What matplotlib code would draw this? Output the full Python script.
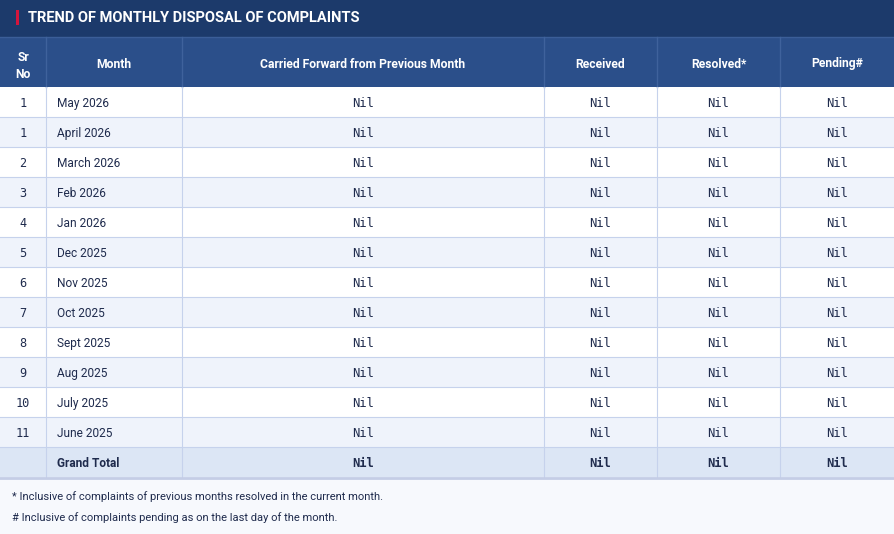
import matplotlib
matplotlib.use("Agg")
import matplotlib.pyplot as plt
from matplotlib.patches import Rectangle

title = "TREND OF MONTHLY DISPOSAL OF COMPLAINTS"
headers = ["Sr\nNo", "Month", "Carried Forward from Previous Month", "Received", "Resolved*", "Pending#"]
sr_no = ["1", "1", "2", "3", "4", "5", "6", "7", "8", "9", "10", "11"]
months = ["May 2026", "April 2026", "March 2026", "Feb 2026", "Jan 2026", "Dec 2025",
          "Nov 2025", "Oct 2025", "Sept 2025", "Aug 2025", "July 2025", "June 2025"]
carried = ["Nil"] * 12
received = ["Nil"] * 12
resolved = ["Nil"] * 12
pending = ["Nil"] * 12
total_label = "Grand Total"
totals = ["Nil", "Nil", "Nil", "Nil"]
footnotes = ["* Inclusive of complaints of previous months resolved in the current month.",
             "# Inclusive of complaints pending as on the last day of the month."]

W, H = 894, 534
fig = plt.figure(figsize=(W / 100, H / 100), dpi=100)
ax = fig.add_axes([0, 0, 1, 1])
ax.set_xlim(0, W)
ax.set_ylim(H, 0)
ax.axis("off")

SANS = ["Roboto", "DejaVu Sans"]
MONO = ["DejaVu Sans Mono"]
txt = "#1f2b4d"
grid = "#c6d2ec"

col_x = [0, 46, 182, 544, 657, 780, 894]
title_h = 37
head_top, head_bot = 37, 87
row_h = 30

# title bar
ax.add_patch(Rectangle((0, 0), W, title_h, color="#1c3a6b", lw=0))
ax.add_patch(Rectangle((16, 10), 3, 15, color="#d4153c", lw=0))
ax.text(28, 17.5, title, color="white", fontsize=10.5, fontweight="bold",
        family=SANS, va="center", ha="left")

# header
ax.add_patch(Rectangle((0, head_top), W, head_bot - head_top, color="#2b4f8a", lw=0))
ax.plot([0, W], [head_top, head_top], color="#3b5e98", lw=1)
for x in col_x[1:-1]:
    ax.plot([x, x], [head_top, head_bot], color="#3f629c", lw=1)
for i, h in enumerate(headers):
    cx = (col_x[i] + col_x[i + 1]) / 2
    yc = (head_top + head_bot) / 2 + 0.5
    ax.text(cx, yc, h, color="white", fontsize=8.7, fontweight="bold",
            family=SANS, ha="center", va="center_baseline", linespacing=1.35)

# body rows
cols = [carried, received, resolved, pending]
n = len(months)
for r in range(n):
    y0 = head_bot + r * row_h
    bg = "white" if r % 2 == 0 else "#eff3fb"
    ax.add_patch(Rectangle((0, y0), W, row_h, color=bg, lw=0))
    yc = y0 + row_h / 2
    ax.text((col_x[0] + col_x[1]) / 2, yc, sr_no[r], color=txt, fontsize=8.6,
            family=MONO, ha="center", va="center_baseline")
    ax.text(col_x[1] + 11, yc, months[r], color=txt, fontsize=8.6,
            family=SANS, ha="left", va="center_baseline")
    for j, c in enumerate(cols):
        cx = (col_x[j + 2] + col_x[j + 3]) / 2
        ax.text(cx, yc, c[r], color=txt, fontsize=8.7, family=MONO,
                ha="center", va="center_baseline")

# grand total row
gy = head_bot + n * row_h
ax.add_patch(Rectangle((0, gy), W, row_h, color="#dce6f5", lw=0))
ax.text(col_x[1] + 11, gy + row_h / 2, total_label, color=txt, fontsize=8.6,
        fontweight="bold", family=SANS, ha="left", va="center_baseline")
for j, t in enumerate(totals):
    cx = (col_x[j + 2] + col_x[j + 3]) / 2
    ax.text(cx, gy + row_h / 2, t, color=txt, fontsize=8.7, fontweight="bold",
            family=MONO, ha="center", va="center_baseline")

# grid lines
for r in range(1, n + 1):
    y = head_bot + r * row_h
    ax.plot([0, W], [y, y], color=grid, lw=0.8)
for x in col_x[1:-1]:
    ax.plot([x, x], [head_bot, gy + row_h], color=grid, lw=0.8)

# footer
fy = gy + row_h
ax.add_patch(Rectangle((0, fy), W, H - fy, color="#f7f9fd", lw=0))
ax.plot([0, W], [fy + 1, fy + 1], color="#c4cde6", lw=2)
ax.text(12, 497, footnotes[0], color=txt, fontsize=8.0, family=SANS, ha="left", va="center")
ax.text(12, 518, footnotes[1], color=txt, fontsize=8.0, family=SANS, ha="left", va="center")

fig.savefig("out.png", dpi=100)
